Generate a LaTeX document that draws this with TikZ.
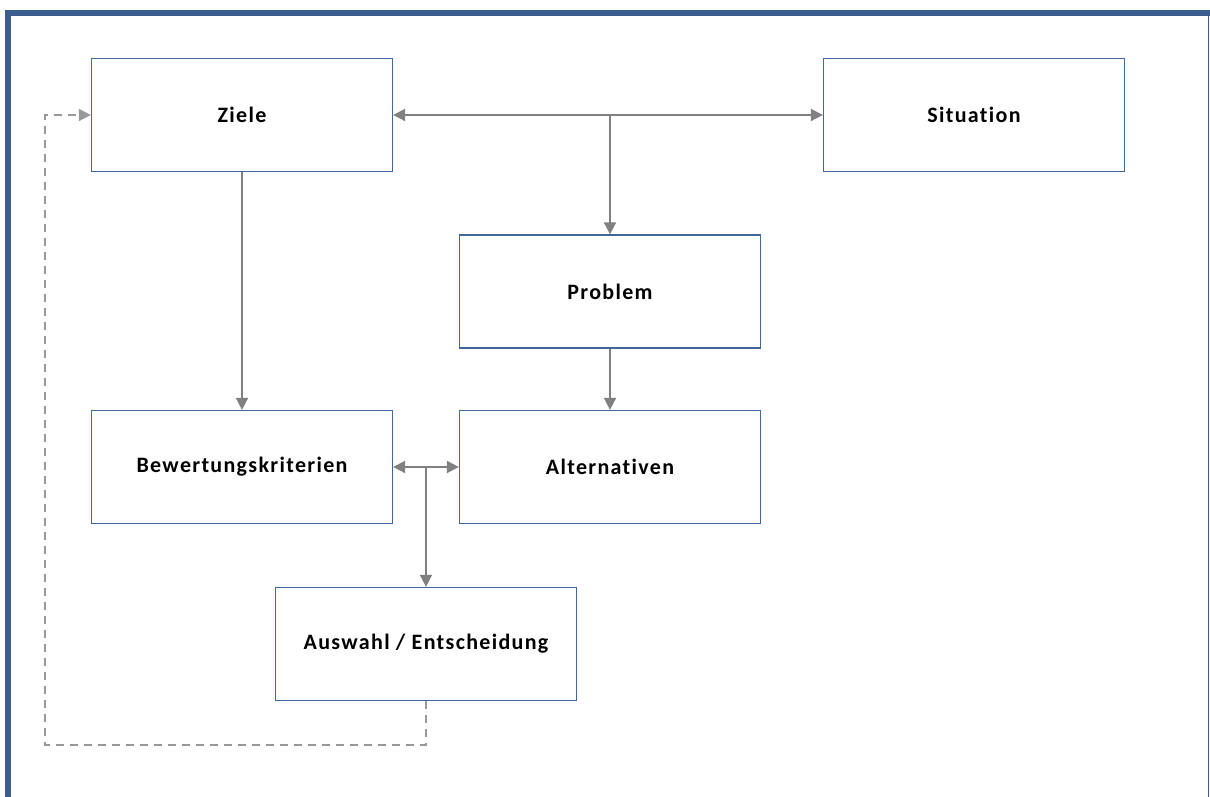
\documentclass[tikz,border=0pt]{standalone}
\usepackage{fontspec}
\setmainfont{Carlito}
\newfontfamily\boxfont[LetterSpace=6,Ligatures=NoCommon]{Carlito}
\usetikzlibrary{arrows.meta}
\definecolor{boxblue}{HTML}{41679A}
\definecolor{framblue}{HTML}{3B5E8E}
\definecolor{linegray}{HTML}{808080}
\definecolor{dashgray}{HTML}{999999}
\begin{document}
\begin{tikzpicture}[x=1pt,y=-1pt,
  box/.style={draw=boxblue,line width=1.3pt,fill=white,minimum width=301pt,minimum height=113pt,inner sep=0pt,font=\boxfont\bfseries\fontsize{22}{26}\selectfont},
  link/.style={draw=linegray,line width=1.8pt,-{Triangle[length=12pt,width=12pt]}},
  biglink/.style={draw=linegray,line width=1.8pt,{Triangle[length=12pt,width=12pt]}-{Triangle[length=12pt,width=12pt]}},
  back/.style={draw=dashgray,line width=1.8pt,dash pattern=on 8pt off 6pt,-{Triangle[length=12pt,width=12pt]}}]
\useasboundingbox (0,0) rectangle (1210,797);
% outer frame: heavy top and left edges, thin right edge
\draw[framblue,line width=5.5pt] (8,797) -- (8,13) -- (1210,13);
\draw[framblue,line width=1.5pt] (1208.5,13) -- (1208.5,797);
% boxes
\node[box] (ziele) at (242,115) {Ziele};
\node[box] (sit) at (974,115) {Situation};
\node[box] (prob) at (610,291.5) {Problem};
\node[box] (bew) at (242,467) {Bewertungskriterien};
\node[box] (alt) at (610,467) {Alternativen};
\node[box] (aus) at (426,644) {Auswahl / Entscheidung};
% connectors
\draw[biglink] (ziele.east) -- (sit.west);
\coordinate (top) at (prob.north |- ziele.east);
\draw[link] (top) -- (prob.north);
\draw[link] (ziele.south) -- (bew.north);
\draw[link] (prob.south) -- (alt.north);
\draw[biglink] (bew.east) -- (alt.west);
\coordinate (mid) at (aus.north |- bew.east);
\draw[link] (mid) -- (aus.north);
% feedback loop back to the goals
\coordinate (c1) at (426,745);
\coordinate (c2) at (45,745);
\coordinate (c3) at (45,115);
\draw[back] (aus.south) -- (c1) -- (c2) -- (c3) -- (ziele.west);
\end{tikzpicture}
\end{document}
